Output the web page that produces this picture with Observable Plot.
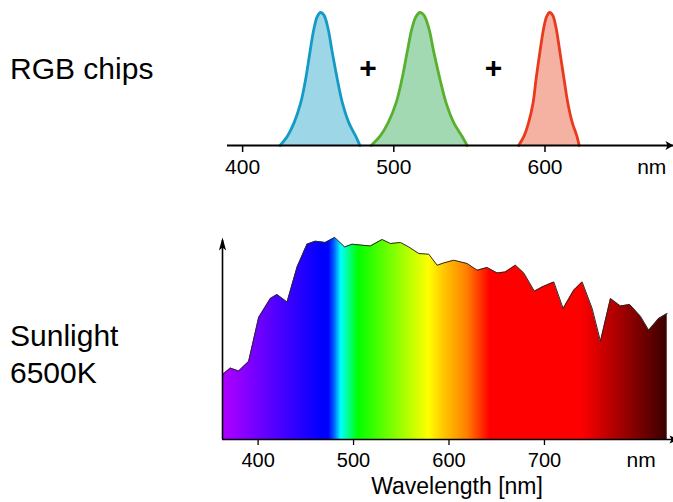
<!DOCTYPE html>
<html><head><meta charset="utf-8">
<script src="https://cdn.jsdelivr.net/npm/d3@7"></script>
<script src="https://cdn.jsdelivr.net/npm/@observablehq/plot@0.6"></script>
<style>
body{margin:0;background:#fff;}
#wrap{position:relative;width:673px;height:502px;overflow:hidden;font-family:"Liberation Sans",Arial,sans-serif;color:#000;}
.lbl{position:absolute;white-space:nowrap;}
#top,#bottom{position:absolute;left:0;}
</style></head><body>
<div id="wrap">
 <div class="lbl" style="left:10px;top:54px;font-size:30px;line-height:30px">RGB chips</div>
 <div class="lbl" style="left:10px;top:318px;font-size:30px;line-height:36.6px">Sunlight<br>6500K</div>
 <div class="lbl" style="left:457px;top:475px;font-size:23px;line-height:23px;transform:translateX(-50%)">Wavelength [nm]</div>
 <div id="top" style="top:0"></div>
 <div id="bottom" style="top:225px"></div>
</div>
<script>
// ---- RGB chip emission profiles: [wavelength nm, relative intensity] ----
const blueChip = [[424.7,0],[429.6,0.07],[434.0,0.17],[438.4,0.32],[441.7,0.5],[444.5,0.7],[447.2,0.88],[449.4,0.97],[451.6,1],[453.8,0.98],[456.5,0.88],[459.3,0.7],[462.6,0.5],[466.0,0.32],[470.3,0.17],[474.8,0.07],[477.6,0]];
const greenChip = [[485.0,0],[490.9,0.07],[496.2,0.17],[501.5,0.32],[505.4,0.5],[508.8,0.7],[512.0,0.88],[514.7,0.97],[517.3,1],[519.9,0.98],[523.2,0.88],[526.5,0.7],[530.5,0.5],[534.6,0.32],[539.7,0.17],[545.1,0.07],[548.5,0]];
const redChip = [[582.6,0],[586.1,0.07],[589.1,0.17],[592.1,0.32],[594.1,0.5],[596.6,0.7],[599.1,0.88],[601.1,0.97],[603.1,1],[605.1,0.98],[607.4,0.88],[609.9,0.7],[612.6,0.5],[615.1,0.32],[618.1,0.17],[621.1,0.07],[622.6,0]];
const plusSigns = [{nm: 483, level: 0.58}, {nm: 566, level: 0.58}];
const topTicks = [400, 500, 600];
const topUnitAt = [670.6];

// ---- Sunlight 6500K spectrum ----
const sunNm = [362.9,371.0,379.7,390.1,400.6,412.9,419.9,430.4,440.9,451.3,460.0,470.5,480.3,490.7,498.5,509.0,517.7,529.9,538.6,549.1,557.8,568.3,578.8,587.6,594.5,605.0,619.0,629.5,640.0,650.4,659.1,669.6,678.3,689.5,697.6,709.8,719.6,730.7,739.5,750.0,758.7,769.2,779.6,789.4,800.6,809.3,819.8,828.6];
const sunPower = [65,71.3,68.3,78,121.7,140.7,144.7,137.3,172.3,195,198,196.7,201.7,192.3,195,194,193.3,199.7,195.7,196.7,192.3,185.7,185,174,176.3,179,175.7,169,171.7,166.3,167.3,174,166.3,148,152.3,157.3,130.7,149,157.3,130.7,98,140.7,133.3,134.7,123,109,120.7,125.7];
const bottomTicks = [400, 500, 600, 700];
const bottomUnitAt = [801.3];

// spectral colour mapping (wavelength -> colour) for the gradient fill
const spectrumStops = [[362.9,"#b000ff"],[467,"#0000ff"],[474,"#0000ff"],[480,"#0060ff"],[487,"#00ffff"],[505,"#00ff00"],[579,"#ffff00"],[592,"#ffd000"],[619,"#ff8000"],[643,"#ff0000"],[738,"#ff0000"],[828.6,"#3a0000"]];

const toRows = a => a.map(([nm, v]) => ({nm, v}));
const sun = sunNm.map((nm, i) => ({nm, power: sunPower[i]}));

const arrowUp = (len, half, notch) => ({draw(ctx) {
  ctx.moveTo(0, 0); ctx.lineTo(half, len); ctx.lineTo(0, notch); ctx.lineTo(-half, len); ctx.closePath();
}});

const font = "Liberation Sans, Arial, sans-serif";

// ---------- top panel ----------
const topX = [390, 685];
const chips = [
  {rows: toRows(blueChip), stroke: "#139bc6", fill: "#9dd6e6"},
  {rows: toRows(greenChip), stroke: "#58b02e", fill: "#a2d9b2"},
  {rows: toRows(redChip), stroke: "#e93a1d", fill: "#f5b1a2"}
];
const topPlot = Plot.plot({
  width: 673, height: 190,
  marginLeft: 227, marginRight: 0, marginTop: 12, marginBottom: 45,
  style: {fontFamily: font, background: "transparent", color: "black"},
  x: {domain: topX, axis: null},
  y: {domain: [0, 1], axis: null},
  marks: [
    ...chips.flatMap(c => [
      Plot.areaY(c.rows, {x: "nm", y: "v", fill: c.fill, curve: "catmull-rom"}),
      Plot.lineY(c.rows, {x: "nm", y: "v", stroke: c.stroke, strokeWidth: 2.8, curve: "catmull-rom"})
    ]),
    Plot.ruleY([0], {stroke: "black", strokeWidth: 2}),
    Plot.axisX({ticks: topTicks, tickSize: 7, tickPadding: 7, fontSize: 21, strokeWidth: 1.5, label: null, tickFormat: d => String(d)}),
    Plot.text(topUnitAt, {x: d => d, y: () => 0, text: () => "nm", fontSize: 21, dy: 21.5}),
    Plot.text(plusSigns, {x: "nm", y: "level", text: () => "+", fontSize: 30, fontWeight: "bold"}),
    Plot.dot([topX[1]], {x: d => d, y: () => 0, symbol: arrowUp(8, 4.5, 6), rotate: 90, fill: "black", stroke: "none"})
  ]
});
document.getElementById("top").appendChild(topPlot);

// ---------- bottom panel ----------
const botX = [362.7, 835.2];
const yMax = 201.7;
const bottomPlot = Plot.plot({
  width: 673, height: 250,
  marginLeft: 222, marginRight: 0, marginTop: 12, marginBottom: 36,
  style: {fontFamily: font, background: "transparent", color: "black"},
  x: {domain: botX, axis: null},
  y: {domain: [0, yMax], axis: null},
  marks: [
    Plot.areaY(sun, {x: "nm", y: "power", fill: "url(#sunGrad)"}),
    Plot.lineY(sun, {x: "nm", y: "power", stroke: "#2a2a2a", strokeWidth: 1}),
    Plot.ruleY([0], {stroke: "black", strokeWidth: 1.6}),
    Plot.ruleX([botX[0]], {y1: () => 0, y2: () => yMax - 3, stroke: "black", strokeWidth: 1.6}),
    Plot.axisX({ticks: bottomTicks, tickSize: 6, tickPadding: 7.5, fontSize: 20, strokeWidth: 1.3, label: null, tickFormat: d => String(d)}),
    Plot.text(bottomUnitAt, {x: d => d, y: () => 0, text: () => "nm", fontSize: 21, dy: 21}),
    Plot.dot([botX[0]], {x: d => d, y: () => yMax, symbol: arrowUp(13, 3.6, 10), fill: "black", stroke: "none"}),
    Plot.dot([botX[1]], {x: d => d, y: () => 0, symbol: arrowUp(9, 4, 7), rotate: 90, dx: 5, fill: "black", stroke: "none"})
  ]
});
{
  const svg = d3.select(bottomPlot.tagName.toLowerCase() === "svg" ? bottomPlot : bottomPlot.querySelector("svg"));
  const grad = svg.insert("defs", ":first-child").append("linearGradient")
    .attr("id", "sunGrad").attr("x1", 0).attr("x2", 1).attr("y1", 0).attr("y2", 0);
  const lo = sunNm[0], hi = sunNm[sunNm.length - 1];
  for (const [nm, c] of spectrumStops) {
    grad.append("stop").attr("offset", Math.max(0, Math.min(1, (nm - lo) / (hi - lo)))).attr("stop-color", c);
  }
}
document.getElementById("bottom").appendChild(bottomPlot);
</script>
</body></html>
